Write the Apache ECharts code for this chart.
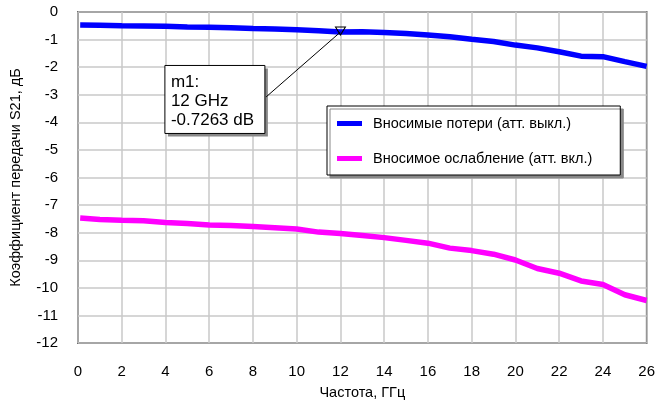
<!DOCTYPE html>
<html>
<head>
<meta charset="utf-8">
<script src="https://cdn.jsdelivr.net/npm/echarts@6/dist/echarts.min.js"></script>
<style>
  html, body { margin: 0; padding: 0; background: #fff; }
  #chart { width: 658px; height: 408px; }
</style>
</head>
<body>
<div id="chart"></div>
<script>
// частота, ГГц
var freq = [0.1, 1, 2, 3, 4, 5, 6, 7, 8, 9, 10, 11, 12, 13, 14, 15, 16, 17, 18, 19, 20, 21, 22, 23, 24, 25, 26];
// S21 выкл., дБ
var lossOff = [-0.47, -0.48, -0.5, -0.51, -0.52, -0.54, -0.55, -0.57, -0.6, -0.62, -0.64, -0.68, -0.7263, -0.72, -0.74, -0.78, -0.83, -0.9, -0.99, -1.07, -1.2, -1.3, -1.44, -1.6, -1.62, -1.8, -1.97];
// S21 вкл., дБ
var lossOn = [-7.47, -7.52, -7.55, -7.57, -7.63, -7.67, -7.72, -7.74, -7.78, -7.82, -7.87, -7.98, -8.03, -8.1, -8.18, -8.28, -8.38, -8.56, -8.65, -8.78, -8.99, -9.3, -9.47, -9.75, -9.88, -10.25, -10.46];
var seriesNames = ['Вносимые потери (атт. выкл.)', 'Вносимое ослабление (атт. вкл.)'];
var marker = { x: 12, y: -0.7263, label: 'm1:\n12 GHz\n-0.7263 dB' };

var font = '"Liberation Sans Narrow", "Arial Narrow", "Liberation Sans", Arial, sans-serif';
var fontWide = '"Liberation Sans", Arial, sans-serif';

function pairs(xs, ys) {
  return xs.map(function (x, i) { return [x, ys[i]]; });
}

var chart = echarts.init(document.getElementById('chart'));
chart.setOption({
  animation: false,
  grid: {
    left: 78, right: 7, top: 12, bottom: 65,
    show: true, borderColor: '#000', borderWidth: 1.5, backgroundColor: 'transparent'
  },
  legend: {
    orient: 'vertical',
    left: 327, top: 106,
    icon: 'rect',
    itemWidth: 25, itemHeight: 5,
    itemGap: 20,
    padding: [10, 28, 9, 10],
    backgroundColor: '#fff',
    borderColor: '#000', borderWidth: 1,
    shadowColor: '#888', shadowBlur: 0, shadowOffsetX: 3, shadowOffsetY: 3,
    textStyle: { fontFamily: font, fontSize: 14.5, color: '#000', padding: [0, 0, 0, 6] },
    data: seriesNames
  },
  xAxis: {
    type: 'value', min: 0, max: 26, interval: 2,
    name: 'Частота, ГГц', nameLocation: 'middle', nameGap: 42,
    nameTextStyle: { fontFamily: font, fontSize: 14.5, color: '#000' },
    axisLine: { show: false }, axisTick: { show: false },
    axisLabel: { margin: 21, fontFamily: font, fontSize: 15, color: '#000' },
    splitLine: { lineStyle: { color: '#c8c8c8', width: 1.5 } }
  },
  yAxis: {
    type: 'value', min: -12, max: 0, interval: 1,
    name: 'Коэффициент передачи S21, дБ', nameLocation: 'middle', nameGap: 55,
    nameTextStyle: { fontFamily: font, fontSize: 14.5, color: '#000' },
    axisLine: { show: false }, axisTick: { show: false },
    axisLabel: { margin: 20, fontFamily: font, fontSize: 15, color: '#000' },
    splitLine: { lineStyle: { color: '#c8c8c8', width: 1.5 } }
  },
  series: [
    {
      name: seriesNames[0], type: 'line', data: pairs(freq, lossOff),
      showSymbol: false, color: '#0000ff', lineStyle: { width: 5.5 },
      markPoint: {
        symbol: 'triangle', symbolRotate: 180, symbolSize: [10, 8], symbolOffset: [0, -1],
        itemStyle: { color: 'rgba(0,0,0,0)', borderColor: '#000', borderWidth: 1 },
        label: { show: false },
        data: [{ coord: [marker.x, marker.y] }]
      },
      markLine: {
        silent: true, symbol: 'none',
        lineStyle: { color: '#000', width: 1, type: 'solid' },
        label: { show: false },
        data: [[{ coord: [marker.x, marker.y] }, { coord: [8.6, -3.08] }]]
      }
    },
    {
      name: seriesNames[1], type: 'line', data: pairs(freq, lossOn),
      showSymbol: false, color: '#ff00ff', lineStyle: { width: 5.5 }
    }
  ]
});

// marker readout box
var tl = chart.convertToPixel({ gridIndex: 0 }, [3.95, -1.92]);
chart.setOption({
  graphic: [{
    type: 'group', left: tl[0], top: tl[1], z: 100,
    children: [
      { type: 'rect', shape: { x: 3, y: 3, width: 100, height: 68 }, style: { fill: '#888' } },
      { type: 'rect', shape: { x: 0, y: 0, width: 100, height: 68 }, style: { fill: '#fff', stroke: '#000', lineWidth: 1 } },
      { type: 'text', x: 6, y: 7, style: { text: marker.label, font: '17px ' + fontWide, fill: '#000', lineHeight: 19 } }
    ]
  }]
});
</script>
</body>
</html>
